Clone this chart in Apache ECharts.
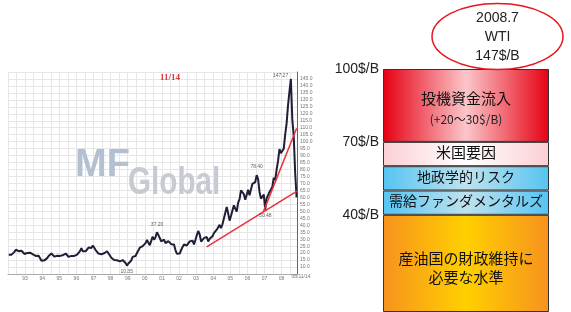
<!DOCTYPE html>
<html>
<head>
<meta charset="utf-8">
<title>WTI 価格構成</title>
<script src="https://cdn.jsdelivr.net/npm/echarts@6/dist/echarts.min.js"></script>
<style>
  html, body { margin: 0; padding: 0; background: #fff; }
  #chart { width: 571px; height: 312px; }
</style>
</head>
<body>
<div id="chart"></div>
<script>
// 左：WTI 月次価格（$/B）1992年1月〜2008年11月
const startYear = 1992;
const wtiPrices = [
  18.8, 19.0, 18.9, 20.2, 20.9, 22.4, 21.8, 21.4, 21.9, 21.7, 20.3, 19.4, // 1992
  19.1, 20.1, 20.3, 20.3, 19.9, 19.1, 17.9, 18.0, 17.5, 18.1, 16.7, 14.5, // 1993
  15.0, 14.8, 14.7, 16.4, 17.9, 19.1, 19.7, 18.4, 17.5, 17.7, 18.1, 17.2, // 1994
  18.0, 18.6, 18.5, 19.9, 19.7, 18.4, 17.3, 17.9, 18.0, 17.4, 18.0, 19.0, // 1995
  18.9, 19.1, 21.4, 23.6, 21.3, 20.5, 21.3, 22.0, 24.0, 24.9, 23.7, 25.4, // 1996
  25.2, 22.2, 21.0, 19.7, 20.8, 19.2, 19.6, 19.9, 19.8, 21.3, 20.2, 18.3, // 1997
  16.7, 16.1, 15.0, 15.4, 14.9, 13.7, 14.1, 13.4, 15.0, 14.4, 12.9, 11.0, // 1998
  12.5, 12.0, 14.7, 17.3, 17.8, 17.9, 20.1, 21.3, 23.9, 22.6, 25.0, 26.1, // 1999
  27.2, 29.4, 29.9, 25.7, 28.8, 31.8, 29.7, 31.2, 35.0, 33.1, 34.4, 28.5, // 2000
  29.6, 29.6, 27.2, 27.4, 28.6, 27.6, 26.4, 27.4, 26.2, 22.2, 19.6, 19.4, // 2001
  19.7, 20.7, 24.4, 26.2, 27.0, 25.5, 26.9, 28.4, 29.7, 28.9, 26.3, 29.4, // 2002
  32.9, 35.9, 33.5, 28.3, 28.1, 30.7, 30.8, 31.6, 28.3, 30.3, 31.1, 32.1, // 2003
  34.3, 34.7, 36.8, 36.7, 40.3, 38.0, 40.7, 44.9, 45.9, 53.1, 48.5, 43.3, // 2004
  46.8, 48.0, 54.3, 53.0, 49.8, 56.3, 58.7, 65.0, 65.6, 62.3, 58.3, 59.4, // 2005
  65.5, 61.6, 62.9, 69.7, 70.9, 71.0, 76.0, 73.1, 63.9, 59.1, 59.4, 62.0, // 2006
  51.0, 59.3, 60.4, 63.9, 63.5, 67.5, 74.1, 72.4, 79.9, 86.2, 94.6, 91.7, // 2007
  92.0, 95.0, 105.0, 113.0, 126.0, 136.0, 145.0, 116.0, 104.0, 78.0, 60.0 // 2008
];

// トレンドライン [年, $/B]
const trendLong = [[2003.62, 24.4], [2008.9, 64.5]];
const trendShort = [[2006.93, 49.6], [2008.88, 109.6]];

// 高値・安値の注記
const noteDates = [2008.53, 2006.54, 2007.05, 2000.72, 1998.94];
const noteValues = [147.27, 78.40, 50.48, 37.20, 10.35];

// 右：価格の構成（$/B）
const layerNames = ["産油国の財政維持に\n必要な水準", "需給ファンダメンタルズ", "地政学的リスク", "米国要因", "投機資金流入"];
const layerValues = [40, 10, 10, 10, 30];
const speculationRange = "(+20～30$/B)";
const priceTicks = [40, 70, 100];
const peakNote = ["2008.7", "WTI", "147$/B"];

const chartDom = document.getElementById("chart");
let chartInstance = null;

const layerColors = [
  ["#f7921e", "#ffd000", "#f7921e"],
  ["#55c4f2", "#bfe2ee", "#55c4f2"],
  ["#55c4f2", "#bfe2ee", "#55c4f2"],
  ["#fbcfd4", "#ffffff", "#fbcfd4"],
  ["#e60012", "#fbc6ca", "#e60012"]
];

const gradient = (c) =>
  new echarts.graphic.LinearGradient(0, 0, 1, 0, [
    { offset: 0, color: c[0] },
    { offset: 0.5, color: c[1] },
    { offset: 1, color: c[2] }
  ]);

const getOption = () => {
  const labelSides = ["left", "top", "bottom", "top", "bottom"];

  const barSeries = layerValues.map((v, i) => {
    const isTop = i === layerValues.length - 1;
    const isBottom = i === 0;
    return {
      type: "bar",
      name: layerNames[i],
      stack: "price",
      xAxisIndex: 1,
      yAxisIndex: 1,
      barWidth: "100%",
      data: [v],
      itemStyle: { color: gradient(layerColors[i]), borderColor: "#333", borderWidth: 1 },
      label: {
        show: true,
        position: "inside",
        color: "#111",
        fontFamily: "Noto Sans CJK JP",
        fontSize: i === 1 || i === 2 ? 14 : 15,
        lineHeight: 19,
        offset: isTop ? [0, 3] : isBottom ? [0, 4] : [0, -2],
        formatter: isTop ? "{a|" + layerNames[i] + "}\n{b|" + speculationRange + "}" : layerNames[i],
        rich: {
          a: { fontSize: 15, lineHeight: 22, color: "#111", fontFamily: "Noto Sans CJK JP" },
          b: { fontSize: 12, lineHeight: 20, color: "#222", fontFamily: "Noto Sans CJK JP" }
        }
      }
    };
  });

  return {
    backgroundColor: "#fff",
    animation: false,
    grid: [
      { left: 8, right: 274, top: 72, bottom: 38 },   // 左の価格推移
      { left: 383, right: 22, top: 69, bottom: -1 }   // 右の構成バー
    ],
    xAxis: [
      {
        type: "value",
        gridIndex: 0,
        min: 1992,
        max: 2008.9,
        interval: 0.5,
        axisLine: { lineStyle: { color: "#aaa" } },
        axisTick: { show: false },
        splitLine: { lineStyle: { color: "#e6e6e6" } },
        axisLabel: {
          fontSize: 5,
          color: "#777",
          margin: 2,
          showMinLabel: false,
          formatter: (v) => (Number.isInteger(v) ? String(v).slice(2) : "")
        }
      },
      { type: "category", gridIndex: 1, data: ["WTI"], show: false }
    ],
    yAxis: [
      {
        type: "value",
        gridIndex: 0,
        position: "right",
        min: 5,
        max: 150,
        interval: 5,
        axisLine: { show: true, lineStyle: { color: "#666" } },
        axisTick: { show: false },
        splitLine: { lineStyle: { color: "#e6e6e6" } },
        axisLabel: {
          fontSize: 5,
          color: "#777",
          margin: 3,
          showMinLabel: false,
          showMaxLabel: false,
          formatter: (v) => v.toFixed(1)
        }
      },
      {
        type: "value",
        gridIndex: 1,
        min: 0,
        max: 100,
        interval: 10,
        axisLine: { show: false },
        axisTick: { show: false },
        splitLine: { show: false },
        axisLabel: {
          fontSize: 14,
          color: "#222",
          fontFamily: "Liberation Sans",
          margin: 4,
          formatter: (v) => (priceTicks.includes(v) ? v + "$/B" : "")
        }
      }
    ],
    graphic: [
      // 透かしとタイトル
      {
        type: "text", x: 75, y: 166, z: 1, silent: true,
        style: { text: "MF", font: 'bold 38px "Liberation Sans"', fill: "#b3c0d1", align: "left", verticalAlign: "middle" }
      },
      {
        type: "text", x: 128, y: 184, z: 1, scaleX: 0.78, silent: true,
        style: { text: "Global", font: 'bold 38px "Liberation Sans"', fill: "#c6cad2", align: "left", verticalAlign: "middle" }
      },
      {
        type: "text", x: 170, y: 78, z: 1, silent: true,
        style: { text: "11/14", font: 'bold 9px "Liberation Serif"', fill: "#d83a3a", align: "center", verticalAlign: "middle" }
      },
      {
        type: "text", x: 301, y: 277, z: 1, silent: true,
        style: { text: "08/11/14", font: '5px "Liberation Sans"', fill: "#777", align: "center", verticalAlign: "middle" }
      },
      // 2008.7 ピークの吹き出し
      {
        type: "ellipse", z: 5,
        shape: { cx: 497.5, cy: 36.5, rx: 65.5, ry: 33 },
        style: { fill: "#fff", stroke: "#e8141e", lineWidth: 1.5 }
      },
      {
        type: "text", x: 497.5, y: 37.5, z: 6,
        style: {
          text: peakNote.join("\n"),
          font: '14px "Liberation Sans"',
          lineHeight: 19,
          fill: "#222",
          align: "center",
          verticalAlign: "middle"
        }
      }
    ],
    series: [
      {
        type: "line",
        name: "WTI",
        xAxisIndex: 0,
        yAxisIndex: 0,
        symbol: "none",
        data: wtiPrices.map((v, i) => [startYear + (i + 0.5) / 12, v]),
        lineStyle: { color: "#1e1e38", width: 2 },
        z: 3
      },
      {
        type: "line",
        xAxisIndex: 0,
        yAxisIndex: 0,
        symbol: "none",
        data: trendLong,
        lineStyle: { color: "#e8323c", width: 1.5 },
        z: 4
      },
      {
        type: "line",
        xAxisIndex: 0,
        yAxisIndex: 0,
        symbol: "none",
        data: trendShort,
        lineStyle: { color: "#e8323c", width: 1.5 },
        z: 4
      },
      {
        type: "scatter",
        xAxisIndex: 0,
        yAxisIndex: 0,
        symbolSize: 1,
        itemStyle: { color: "rgba(0,0,0,0)" },
        data: noteDates.map((d, i) => ({
          value: [d, noteValues[i]],
          label: { position: labelSides[i] }
        })),
        label: {
          show: true,
          fontSize: 5,
          color: "#333",
          distance: 2,
          formatter: (p) => p.value[1].toFixed(2)
        },
        z: 5
      },
      ...barSeries
    ]
  };
};

const initChart = () => {
  chartInstance = echarts.init(chartDom);
  chartInstance.setOption(getOption());
  window.addEventListener("resize", () => chartInstance && chartInstance.resize());
};

initChart();
</script>
</body>
</html>
